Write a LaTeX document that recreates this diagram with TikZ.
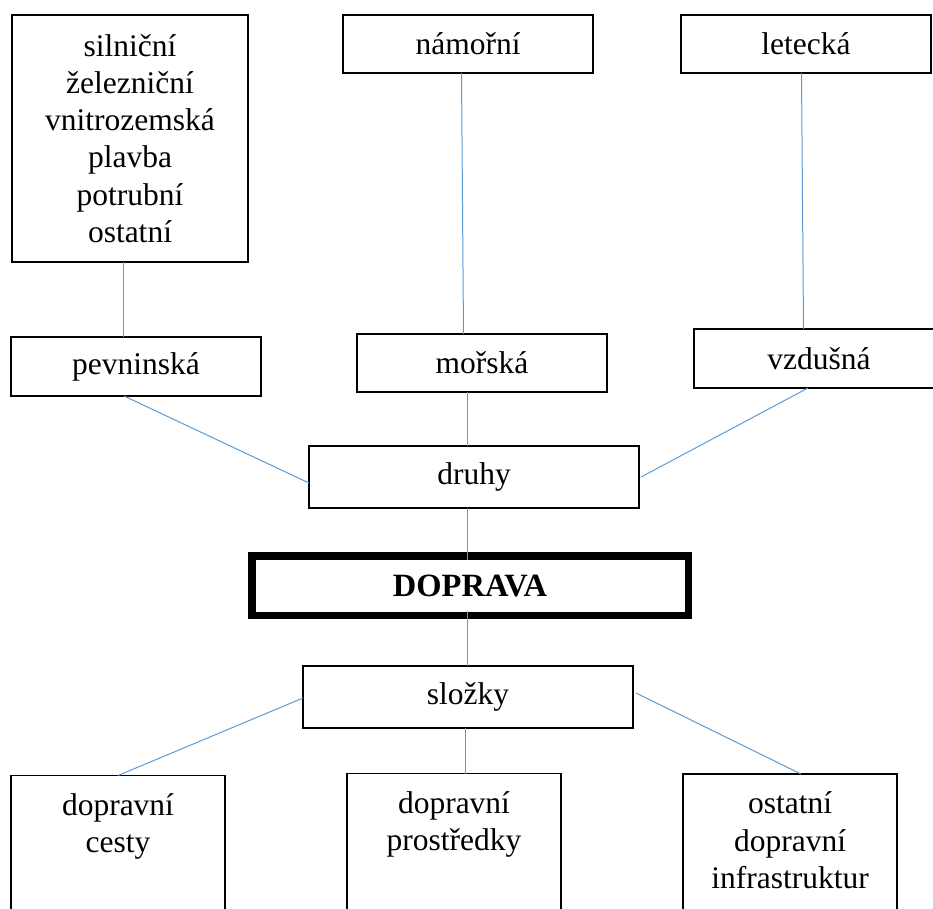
\documentclass[tikz,border=0pt]{standalone}
\usepackage{fontspec}
\setmainfont{Liberation Serif}
\definecolor{conn}{HTML}{5B9BD5}
\begin{document}
\begin{tikzpicture}[x=1pt,y=-1pt,
  box/.style={draw=black, line width=1.5pt, rectangle, inner sep=0pt, outer sep=0pt,
    align=center, font=\fontsize{31.5}{37.3}\selectfont},
  lbl/.style={inner sep=0pt, outer sep=0pt, align=center, font=\fontsize{31.5}{37.3}\selectfont},
  link/.style={draw=conn, line width=1pt}]
\useasboundingbox (0,0) rectangle (933,908);
\clip (0,0) rectangle (933,908);
% top row
\node[box, minimum width=236pt, minimum height=247pt] (types) at (130,138.5)
  {silniční\\železniční\\vnitrozemská\\plavba\\potrubní\\ostatní};
\node[box, minimum width=250pt, minimum height=58pt] (sea) at (468,44) {námořní};
\node[box, minimum width=250pt, minimum height=58pt] (air) at (806,44) {letecká};
% second row
\node[box, minimum width=250pt, minimum height=59pt] (land) at (136,366.5) {pevninská};
\node[box, minimum width=250pt, minimum height=58pt] (marine) at (482,363) {mořská};
\node[box, minimum width=250pt, minimum height=59pt] (aerial) at (819,358.5) {vzdušná};
% centre
\node[box, minimum width=330pt, minimum height=62pt] (kinds) at (474,477) {druhy};
\node[box, line width=7.5pt, minimum width=436.5pt, minimum height=59.5pt] (main) at (470,585.5) {\fontsize{32.5}{37.3}\selectfont\bfseries DOPRAVA};
\node[box, minimum width=330pt, minimum height=62pt] (parts) at (468,697) {složky};
% bottom row
\node[box, anchor=north, minimum width=214pt, minimum height=160pt] (roads) at (118,775.5) {};
\node[lbl, anchor=north] (roadsT) at ([yshift=-18pt]roads.north) {dopravní\\cesty};
\node[box, anchor=north, minimum width=214pt, minimum height=160pt] (means) at (454,773.5) {};
\node[lbl, anchor=north] (meansT) at ([yshift=-18pt]means.north) {dopravní\\prostředky};
\node[box, anchor=north, minimum width=214pt, minimum height=160pt] (infra) at (790,774) {};
\node[lbl, anchor=north] (infraT) at ([yshift=-18pt]infra.north) {ostatní\\dopravní\\infrastruktur};
% connectors
\draw[link] ([xshift=-6.5pt]types.south) -- ([xshift=-12.5pt]land.north);
\draw[link] ([xshift=-6.5pt]sea.south) -- ([xshift=-18.5pt]marine.north);
\draw[link] ([xshift=-4.5pt]air.south) -- ([xshift=-15.5pt]aerial.north);
\draw[link] ([xshift=-12pt]land.south) -- ([yshift=-6pt]kinds.west);
\draw[link] ([xshift=-14.5pt]marine.south) -- ([xshift=-6.5pt]kinds.north);
\draw[link] ([xshift=-11pt]aerial.south) -- ([xshift=2pt]kinds.east);
\draw[link] ([xshift=-6.5pt]kinds.south) -- ([xshift=-2.5pt,yshift=-4pt]main.north);
\draw[link] ([xshift=-2.5pt,yshift=4pt]main.south) -- ([xshift=-0.5pt]parts.north);
\draw[link] ([yshift=-1pt]parts.west) -- (roads.north);
\draw[link] ([xshift=-2.5pt]parts.south) -- ([xshift=11.5pt]means.north);
\draw[link] ([xshift=3pt,yshift=4pt]parts.east) -- ([xshift=11pt]infra.north);
\end{tikzpicture}
\end{document}
